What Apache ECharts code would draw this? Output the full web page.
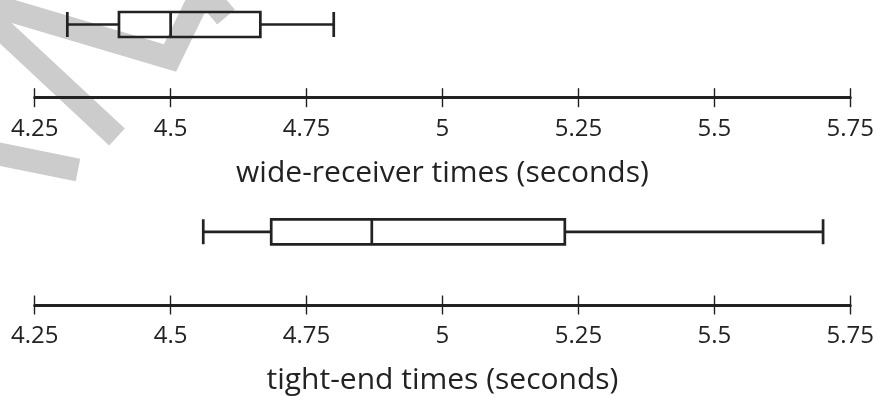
<!DOCTYPE html>
<html>
<head>
<meta charset="utf-8">
<script src="https://cdn.jsdelivr.net/npm/echarts@6/dist/echarts.min.js"></script>
<style>
  html, body { margin: 0; padding: 0; background: #ffffff; }
  #chart { width: 877px; height: 396px; }
</style>
</head>
<body>
<div id="chart"></div>
<script>
// Forty-yard dash times, five-number summaries: [min, Q1, median, Q3, max]
const groups = ['wide-receiver', 'tight-end'];
const wideReceiverTimes = [4.31, 4.405, 4.50, 4.665, 4.80];
const tightEndTimes = [4.56, 4.685, 4.87, 5.225, 5.70];
const axisTitles = ['wide-receiver times (seconds)', 'tight-end times (seconds)'];
const axisMin = 4.25;
const axisMax = 5.75;
const axisStep = 0.25;

const INK = '#222222';
const FONT = 'Open Sans';

// Each panel: grid top/height place the box, offset pushes the number line down
const panels = [
  { top: 0, height: 49, offset: 48.7, values: wideReceiverTimes },
  { top: 200, height: 64.4, offset: 41.3, values: tightEndTimes }
];

const grids = [];
const xAxes = [];
const yAxes = [];
const series = [];

panels.forEach(function (p, i) {
  grids.push({ left: 34.7, right: 26.3, top: p.top, height: p.height });

  // main number line: line, downward ticks, labels and title
  xAxes.push({
    gridIndex: i, type: 'value', min: axisMin, max: axisMax, interval: axisStep,
    position: 'bottom', offset: p.offset,
    axisLine: { show: true, lineStyle: { color: INK, width: 3 } },
    axisTick: { show: true, inside: false, length: 9.5, lineStyle: { color: INK, width: 1.4 } },
    axisLabel: { show: true, margin: 19, fontSize: 24, color: INK, fontFamily: FONT,
                 showMinLabel: true, showMaxLabel: true },
    splitLine: { show: false },
    name: axisTitles[i], nameLocation: 'middle', nameGap: i === 0 ? 61 : 60,
    nameTextStyle: { fontSize: 30, color: INK, fontFamily: FONT }
  });
  // companion axis for the upward half of each tick
  xAxes.push({
    gridIndex: i, type: 'value', min: axisMin, max: axisMax, interval: axisStep,
    position: 'bottom', offset: p.offset,
    axisLine: { show: false },
    axisTick: { show: true, inside: true, length: 9.5, lineStyle: { color: INK, width: 1.4 } },
    axisLabel: { show: false },
    splitLine: { show: false }
  });

  yAxes.push({
    gridIndex: i, type: 'category', data: [groups[i]], show: false
  });

  series.push({
    type: 'boxplot',
    name: groups[i],
    xAxisIndex: i * 2,
    yAxisIndex: i,
    boxWidth: [25, 25],
    itemStyle: { color: 'rgba(0,0,0,0)', borderColor: INK, borderWidth: 2.7 },
    emphasis: { disabled: true },
    data: [p.values]
  });
});

// light grey lettering strokes behind the chart
const stampStyle = { stroke: '#cccccc', lineWidth: 23, fill: null, lineJoin: 'miter', miterLimit: 8 };
const stamp = [
  [[117, 137], [-32, -2], [170, 58], [203, -10], [226, 17]],
  [[-6, 153], [78, 170]]
].map(function (pts) {
  return { type: 'polyline', z: -10, silent: true, shape: { points: pts }, style: stampStyle };
});

const chart = echarts.init(document.getElementById('chart'), null, { renderer: 'canvas' });
chart.setOption({
  animation: false,
  backgroundColor: '#ffffff',
  graphic: stamp,
  grid: grids,
  xAxis: xAxes,
  yAxis: yAxes,
  series: series
});
</script>
</body>
</html>
